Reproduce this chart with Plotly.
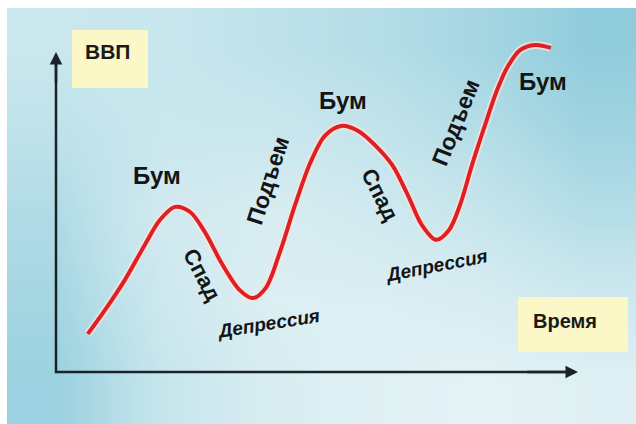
import plotly.graph_objects as go

# ---- data (time units vs GDP units) ----
time_vals = [6.1, 9.4, 13.2, 17.0, 19.9, 22.8, 25.7, 28.5, 31.8, 35.2, 37.7, 40.2,
             42.9, 45.8, 48.7, 51.5, 54.6, 57.9, 61.1, 64.4, 67.4, 70.1, 72.8, 75.3,
             77.4, 79.7, 82.2, 84.5, 86.6, 88.9, 91.8, 94.8]
gdp_vals = [11.9, 19.4, 28.8, 39.7, 47.5, 51.6, 50.0, 43.8, 33.8, 25.6, 23.1, 26.3,
            37.5, 52.2, 65.3, 73.8, 76.9, 75.3, 70.9, 64.7, 55.3, 45.9, 41.3, 44.4,
            52.2, 64.7, 77.2, 88.1, 95.6, 100.6, 102.2, 101.3]

phase_labels = ["Бум", "Спад", "Депрессия", "Подъем", "Бум", "Спад", "Депрессия", "Подъем", "Бум"]
phase_time = [19.3, 28.0, 40.6, 40.6, 55.0, 62.1, 72.8, 76.6, 93.3]
phase_gdp = [61.3, 30.6, 15.3, 60.0, 85.0, 55.6, 33.4, 78.1, 90.9]
phase_angle = [0, 62, -9, -72, 0, 63, -11, -68, 0]

y_axis_label = "ВВП"
x_axis_label = "Время"
time_axis_max = 100
gdp_axis_max = 100

# background gradient levels (style only), rows bottom -> top
bg_x_edges = [-9.39, 10.7, 30.8, 50.9, 71.0, 91.1, 111.2]
bg_y_edges = [-16.25, 9.75, 35.75, 61.75, 87.75, 113.75]
bg_levels = [
    [0.15, 0.60, 0.85, 0.95, 1.00, 0.95],
    [0.25, 0.70, 0.90, 0.90, 0.85, 0.70],
    [0.35, 0.75, 0.85, 0.75, 0.60, 0.40],
    [0.50, 0.65, 0.65, 0.55, 0.40, 0.20],
    [0.65, 0.62, 0.50, 0.40, 0.25, 0.05],
]

fig = go.Figure()

fig.add_trace(go.Heatmap(
    x=bg_x_edges, y=bg_y_edges, z=bg_levels, zsmooth="best", showscale=False,
    colorscale=[[0, "#8ccadb"], [0.5, "#bfe2ea"], [1, "#e3f2f5"]],
    zmin=0, zmax=1, hoverinfo="skip"))

# axes L
fig.add_trace(go.Scatter(x=[0, 0, time_axis_max - 2], y=[gdp_axis_max - 3, 0, 0], mode="lines",
                         line=dict(color="#1b2328", width=2.5), hoverinfo="skip"))

# curve halo + curve
fig.add_trace(go.Scatter(x=time_vals, y=gdp_vals, mode="lines",
                         line=dict(color="rgba(255,225,215,0.7)", width=8, shape="spline", smoothing=0.9),
                         hoverinfo="skip"))
fig.add_trace(go.Scatter(x=time_vals, y=gdp_vals, mode="lines",
                         line=dict(color="#dd1f26", width=4, shape="spline", smoothing=0.9),
                         hoverinfo="skip"))

annotations = []
# axis arrows
annotations.append(dict(x=0, y=gdp_axis_max, ax=0, ay=gdp_axis_max - 10, xref="x", yref="y",
                        axref="x", ayref="y", showarrow=True, arrowhead=2, arrowsize=1,
                        arrowwidth=2.5, arrowcolor="#1b2328", text=""))
annotations.append(dict(x=time_axis_max, y=0, ax=time_axis_max - 10, ay=0, xref="x", yref="y",
                        axref="x", ayref="y", showarrow=True, arrowhead=2, arrowsize=1,
                        arrowwidth=2.5, arrowcolor="#1b2328", text=""))

for lab, t, g, ang in zip(phase_labels, phase_time, phase_gdp, phase_angle):
    if lab == "Депрессия":
        size, style = 19, "italic"
    elif lab == "Бум":
        size, style = 24, "normal"
    elif lab == "Подъем":
        size, style = 23, "normal"
    else:
        size, style = 22, "normal"
    annotations.append(dict(x=t, y=g, xref="x", yref="y", text="<b>" + lab + "</b>",
                            showarrow=False, textangle=ang, xanchor="center", yanchor="middle",
                            font=dict(family="Liberation Sans, Arial", size=size, color="#141414", style=style)))

annotations.append(dict(x=107/636, y=1-52/424, xref="paper", yref="paper", text="<b>" + y_axis_label + "</b>",
                        showarrow=False, xanchor="center", yanchor="middle",
                        font=dict(family="Liberation Sans, Arial", size=21, color="#1a1a1a")))
annotations.append(dict(x=565/636, y=1-321/424, xref="paper", yref="paper", text="<b>" + x_axis_label + "</b>",
                        showarrow=False, xanchor="center", yanchor="middle",
                        font=dict(family="Liberation Sans, Arial", size=20, color="#1a1a1a")))

shapes = [
    dict(type="rect", xref="paper", yref="paper", x0=72/636, x1=148/636, y0=1-88/424, y1=1-30/424,
         fillcolor="#fbf7c6", line=dict(width=0), layer="above"),
    dict(type="rect", xref="paper", yref="paper", x0=518/636, x1=628/636, y0=1-352/424, y1=1-297/424,
         fillcolor="#fbf7c6", line=dict(width=0), layer="above"),
]

fig.update_layout(
    width=636, height=424, margin=dict(l=0, r=0, t=0, b=0),
    paper_bgcolor="white", plot_bgcolor="white", showlegend=False,
    xaxis=dict(range=[-56/5.22, 580/5.22], visible=False, fixedrange=True),
    yaxis=dict(range=[-52/3.2, 372/3.2], visible=False, fixedrange=True),
    annotations=annotations, shapes=shapes,
)

fig.write_html("out.html", config={"displayModeBar": False},
               post_script="document.body.style.margin='0px';document.body.style.overflow='hidden';")
